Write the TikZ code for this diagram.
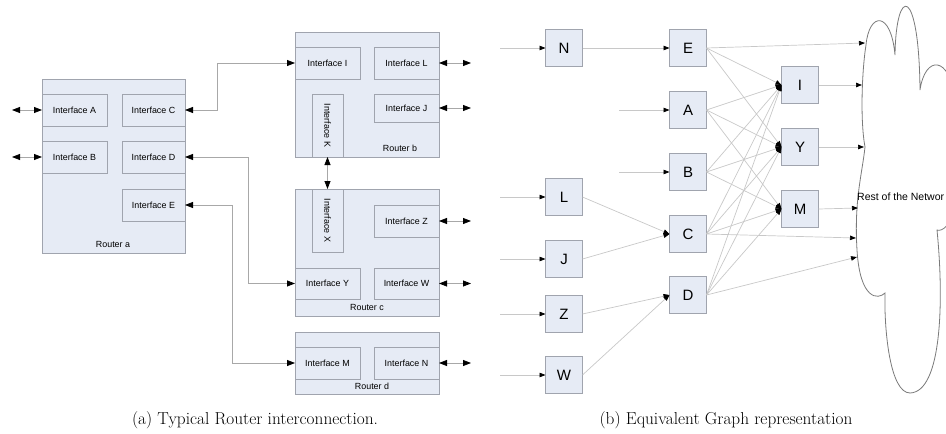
\documentclass[tikz,border=0pt]{standalone}
\usepackage{fontspec}
\newfontfamily\arialf{Liberation Sans}
\usetikzlibrary{arrows.meta}
\definecolor{boxfill}{HTML}{E6EBF5}
\definecolor{boxline}{HTML}{A0A4AE}
\definecolor{wire}{HTML}{A8A8A8}
\definecolor{edgec}{HTML}{C8C8C8}
\definecolor{cloudc}{HTML}{7A7A7A}
\begin{document}
\begin{tikzpicture}[x=1pt,y=-1pt,
 rbox/.style={draw=boxline, fill=boxfill, line width=0.7pt, inner sep=0pt, outer sep=0pt, font=\arialf\fontsize{8.9}{10}\selectfont},
 gnode/.style={draw=boxline, fill=boxfill, line width=0.7pt, minimum width=37pt, minimum height=37pt, inner sep=0pt, outer sep=0pt, font=\arialf\fontsize{15}{16}\selectfont},
 lbl/.style={font=\arialf\fontsize{8.9}{10}\selectfont, inner sep=0pt},
 wireline/.style={draw=wire, line width=0.8pt},
 dbl/.style={wireline, {Triangle[length=8pt,width=6pt,black]}-{Triangle[length=8pt,width=6pt,black]}},
 gedge/.style={draw=edgec, line width=0.7pt, -{Triangle[length=6pt,width=4.5pt,black]}},
 captxt/.style={font=\fontsize{17.3}{20}\selectfont, inner sep=0pt}
]
\useasboundingbox (0,0) rectangle (946,434);

% ---------------- Router a
\node[rbox, minimum width=143pt, minimum height=174pt] (ra) at (113.5,166) {};
\node[rbox, minimum width=65pt, minimum height=32pt] (ifA) at (74.5,110) {Interface A};
\node[rbox, minimum width=63pt, minimum height=32pt] (ifC) at (153.5,110) {Interface C};
\node[rbox, minimum width=65pt, minimum height=32pt] (ifB) at (74.5,157) {Interface B};
\node[rbox, minimum width=63pt, minimum height=32pt] (ifD) at (153.5,157) {Interface D};
\node[rbox, minimum width=63pt, minimum height=32pt] (ifE) at (153.5,205) {Interface E};
\node[lbl] (la) at (113,244) {Router a};

% ---------------- Router b
\node[rbox, minimum width=144pt, minimum height=125pt] (rb) at (367,94.5) {};
\node[rbox, minimum width=65pt, minimum height=32pt] (ifI) at (327.5,63) {Interface I};
\node[rbox, minimum width=65pt, minimum height=32pt] (ifL) at (406.5,63) {Interface L};
\node[rbox, minimum width=65pt, minimum height=28pt] (ifJ) at (406.5,108) {Interface J};
\node[rbox, minimum width=31pt, minimum height=63pt] (ifK) at (327.5,125.5) {};
\node[lbl, rotate=-90] (tK) at (ifK.center) {Interface K};
\node[lbl] (lb) at (400,148) {Router b};

% ---------------- Router c
\node[rbox, minimum width=144pt, minimum height=127pt] (rc) at (367,252.5) {};
\node[rbox, minimum width=31pt, minimum height=63pt] (ifX) at (327.5,220.5) {};
\node[lbl, rotate=-90] (tX) at (ifX.center) {Interface X};
\node[rbox, minimum width=65pt, minimum height=32pt] (ifZ) at (406.5,221) {Interface Z};
\node[rbox, minimum width=65pt, minimum height=31pt] (ifY) at (327.5,283.5) {Interface Y};
\node[rbox, minimum width=65pt, minimum height=31pt] (ifW) at (406.5,283.5) {Interface W};
\node[lbl] (lc) at (367,307.5) {Router c};

% ---------------- Router d
\node[rbox, minimum width=144pt, minimum height=62pt] (rd) at (367,363) {};
\node[rbox, minimum width=65pt, minimum height=32pt] (ifM) at (327.5,363) {Interface M};
\node[rbox, minimum width=65pt, minimum height=32pt] (ifN) at (406.5,363) {Interface N};
\node[lbl] (ld) at (372,386.5) {Router d};

% ---------------- Router connectors
\coordinate (pA) at (12,110);
\coordinate (pB) at (12,157);
\coordinate (pL) at (471,63);
\coordinate (pJ) at (471,108);
\coordinate (pZ) at (471,221);
\coordinate (pW) at (471,283.5);
\coordinate (pN) at (471,363);
\draw[dbl] (pA) -- (ifA.west);
\draw[dbl] (pB) -- (ifB.west);
\draw[dbl] (ifL.east) -- (pL);
\draw[dbl] (ifJ.east) -- (pJ);
\draw[dbl] (ifZ.east) -- (pZ);
\draw[dbl] (ifW.east) -- (pW);
\draw[dbl] (ifN.east) -- (pN);
\draw[dbl] (ifK.south) -- (ifX.north);
\draw[dbl] (ifC.east) -- ++(32,0) |- (ifI.west);
\draw[dbl] (ifD.east) -- ++(63,0) |- (ifY.west);
\draw[dbl] (ifE.east) -- ++(47,0) |- (ifM.west);

% ---------------- Graph
\node[gnode] (N) at (564,48) {N};
\node[gnode] (E) at (688,48) {E};
\node[gnode] (A) at (688,110) {A};
\node[gnode] (B) at (688,172) {B};
\node[gnode] (L) at (564,197) {L};
\node[gnode] (C) at (688,234) {C};
\node[gnode] (J) at (564,259) {J};
\node[gnode] (D) at (688,295) {D};
\node[gnode] (Z) at (564,314) {Z};
\node[gnode] (W) at (564,375) {W};
\node[gnode] (I) at (800,85) {I};
\node[gnode] (Y) at (800,147) {Y};
\node[gnode] (M) at (800,209) {M};

\coordinate (inN) at (500,48);
\coordinate (inA) at (619,110);
\coordinate (inB) at (619,172);
\coordinate (inL) at (500,197);
\coordinate (inJ) at (500,259);
\coordinate (inZ) at (500,314);
\coordinate (inW) at (500,375);
\draw[gedge] (inN) -- (N.west);
\draw[gedge] (inA) -- (A.west);
\draw[gedge] (inB) -- (B.west);
\draw[gedge] (inL) -- (L.west);
\draw[gedge] (inJ) -- (J.west);
\draw[gedge] (inZ) -- (Z.west);
\draw[gedge] (inW) -- (W.west);
\draw[gedge] (N.east) -- (E.west);
\draw[gedge] (L.east) -- (C.west);
\draw[gedge] (J.east) -- (C.west);
\draw[gedge] (Z.east) -- (D.west);
\draw[gedge] (W.east) -- (D.west);

\foreach \s in {E,A,B,C,D} {
  \draw[gedge] (\s.east) -- (I.west);
  \draw[gedge] (\s.east) -- (Y.west);
}
\foreach \s in {A,B,C,D} {
  \draw[gedge] (\s.east) -- (M.west);
}

% ---------------- Cloud
\draw[cloudc, line width=0.8pt, fill=white]
  (866,45) .. controls (869,12) and (891,10) .. (895,55)
  .. controls (896,-15) and (919,-15) .. (920,90)
  .. controls (925,55) and (950,55) .. (955,100)
  -- (955,205)
  .. controls (952,225) and (942,232) .. (937,230)
  .. controls (944,300) and (942,392) .. (910,393)
  .. controls (890,393) and (884,330) .. (885,293)
  .. controls (878,300) and (860,300) .. (857,250)
  .. controls (854,200) and (862,175) .. (865,147)
  .. controls (860,120) and (862,70) .. (866,45) -- cycle;
\node[lbl, font=\arialf\fontsize{10.5}{12}\selectfont, anchor=west] (rest) at (857,197) {Rest of the Networ};

\coordinate (k1) at (865,43);
\coordinate (k2) at (862,85);
\coordinate (k3) at (864,147);
\coordinate (k4) at (858,208);
\coordinate (k5) at (856,238);
\coordinate (k6) at (857,257);
\draw[gedge] (E.east) -- (k1);
\draw[gedge] (I.east) -- (k2);
\draw[gedge] (Y.east) -- (k3);
\draw[gedge] (M.east) -- (k4);
\draw[gedge] (C.east) -- (k5);
\draw[gedge] (D.east) -- (k6);

% ---------------- Captions
\node[captxt] (capa) at (255,420) {(a) Typical Router interconnection.};
\node[captxt] (capb) at (726,420) {(b) Equivalent Graph representation};
\end{tikzpicture}
\end{document}
